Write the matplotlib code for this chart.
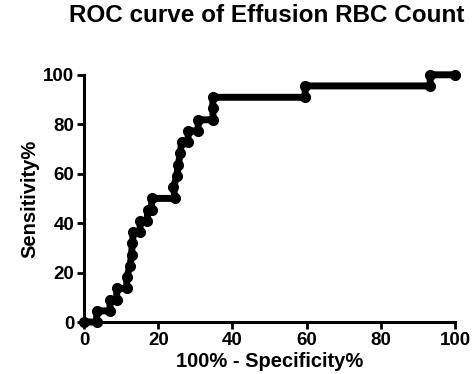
import matplotlib
matplotlib.use("Agg")
import matplotlib.pyplot as plt

fpr = [0, 3.4, 3.4, 7.0, 7.0, 8.8, 8.8, 11.5, 11.5, 12.4, 12.8, 13.0, 13.3, 15.1, 15.1, 16.9,
       17.3, 18.2, 18.2, 24.5, 24.1, 25.0, 25.4, 25.9, 26.3, 28.0, 28.1, 30.7, 30.8, 34.8,
       34.7, 34.7, 59.6, 59.6, 93.3, 93.3, 100]
sens = [0, 0, 4.5, 4.5, 9.1, 9.1, 13.6, 13.6, 18.2, 22.7, 27.3, 31.8, 36.4, 36.4, 40.9, 40.9,
        45.5, 45.5, 50.0, 50.0, 54.5, 59.1, 63.6, 68.2, 72.7, 72.7, 77.3, 77.3, 81.8, 81.8,
        86.4, 90.9, 90.9, 95.5, 95.5, 100, 100]

xticks = [0, 20, 40, 60, 80, 100]
yticks = [0, 20, 40, 60, 80, 100]

plt.rcParams['font.family'] = ['Liberation Sans', 'DejaVu Sans']
fig = plt.figure(figsize=(4.75, 3.74), dpi=100)
ax = fig.add_axes([0.177, 0.139, 0.781, 0.661])
ax.plot(fpr, sens, color='black', lw=5.0, marker='o', ms=7.0,
        solid_capstyle='round', solid_joinstyle='round', clip_on=False, zorder=3)
ax.set_xlim(0, 100)
ax.set_ylim(0, 100)
ax.set_xticks(xticks)
ax.set_yticks(yticks)
for s in ['top', 'right']:
    ax.spines[s].set_visible(False)
for s in ['left', 'bottom']:
    ax.spines[s].set_linewidth(2.2)
ax.tick_params(axis='both', direction='out', length=5, width=2.0, labelsize=13.5, pad=2)
for lab in ax.get_xticklabels() + ax.get_yticklabels():
    lab.set_fontweight('bold')
ax.set_xlabel('100% - Specificity%', fontsize=14.5, fontweight='bold', labelpad=2)
ax.set_ylabel('Sensitivity%', fontsize=14.5, fontweight='bold', labelpad=3)
fig.text(0.561, 0.958, 'ROC curve of Effusion RBC Count', fontsize=17.5, fontweight='bold',
         ha='center', va='center')
fig.savefig('out.png', dpi=100)
